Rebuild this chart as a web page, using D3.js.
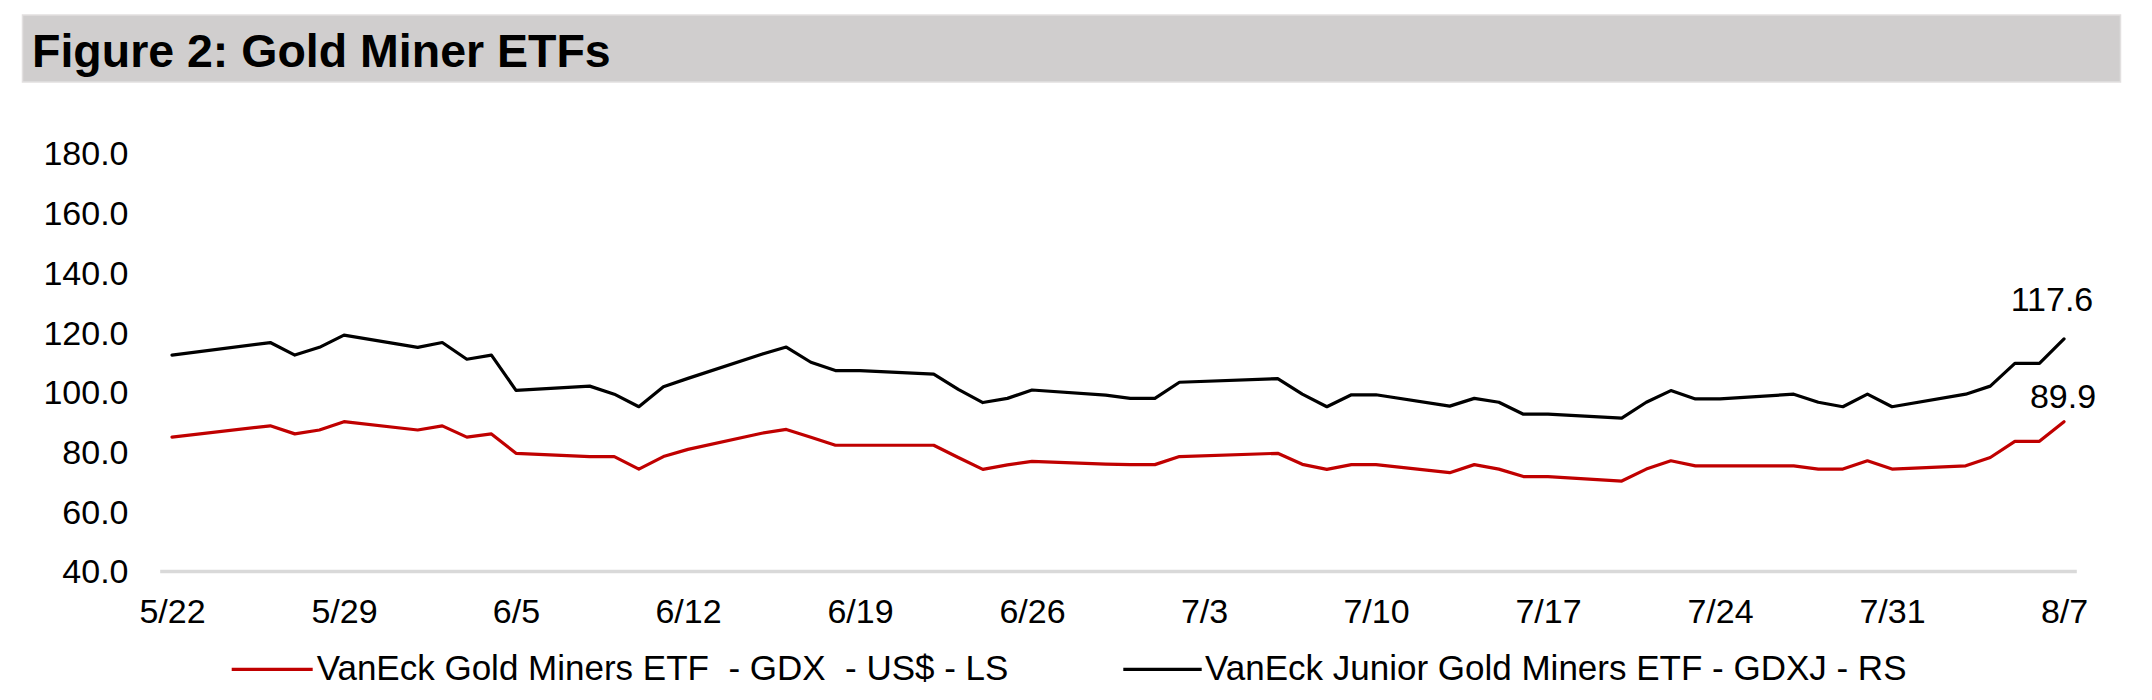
<!DOCTYPE html>
<html>
<head>
<meta charset="utf-8">
<script src="https://cdn.jsdelivr.net/npm/d3@7/dist/d3.min.js"></script>
<style>
  html, body { margin: 0; padding: 0; background: #ffffff; }
  svg { display: block; font-family: "Liberation Sans", Arial, Helvetica, sans-serif; }
</style>
</head>
<body>
<svg id="chart" width="2152" height="700"></svg>
<script>
// ---------------- DATA ----------------
const titleText = "Figure 2: Gold Miner ETFs";
const year = 2020;
const tradingDays = ["5/22","5/26","5/27","5/28","5/29","6/1","6/2","6/3","6/4","6/5",
  "6/8","6/9","6/10","6/11","6/12","6/15","6/16","6/17","6/18","6/19",
  "6/22","6/23","6/24","6/25","6/26","6/29","6/30","7/1","7/2","7/6",
  "7/7","7/8","7/9","7/10","7/13","7/14","7/15","7/16","7/17","7/20",
  "7/21","7/22","7/23","7/24","7/27","7/28","7/29","7/30","7/31","8/3",
  "8/4","8/5","8/6","8/7"];
const gdx = [84.7,88.5,85.8,87.1,89.9,87.1,88.5,84.7,85.8,79.3,
  78.2,78.2,74.0,78.2,80.6,86.0,87.3,84.7,82.0,82.0,
  82.0,77.9,73.9,75.4,76.6,75.7,75.5,75.5,78.2,79.3,
  75.6,73.9,75.5,75.5,72.8,75.5,74.0,71.5,71.5,70.0,
  74.0,76.8,75.1,75.1,75.1,74.0,74.0,76.8,74.0,75.1,
  77.9,83.3,83.3,89.9];
const gdxj = [112.2,116.4,112.2,114.8,118.9,114.8,116.4,110.8,112.2,100.4,
  101.8,99.1,94.9,101.6,104.4,112.5,114.9,109.8,107.0,107.0,
  105.8,100.7,96.3,97.7,100.5,98.8,97.7,97.7,103.1,104.3,
  99.1,94.9,98.9,98.9,95.1,97.7,96.4,92.4,92.4,91.1,
  96.4,100.3,97.5,97.5,99.1,96.4,94.9,99.1,94.9,99.1,
  101.8,109.4,109.4,117.6];
const xTickLabels = ["5/22","5/29","6/5","6/12","6/19","6/26","7/3","7/10","7/17","7/24","7/31","8/7"];
const yTicks = [40,60,80,100,120,140,160,180];
const seriesNames = ["VanEck Gold Miners ETF  - GDX  - US$ - LS", "VanEck Junior Gold Miners ETF - GDXJ - RS"];
const seriesColors = ["#c00000", "#000000"];

// ---------------- HELPERS ----------------
const parseMD = s => { const [m, d] = s.split("/").map(Number); return new Date(Date.UTC(year, m - 1, d)); };
const dates = tradingDays.map(parseMD);
const tickDates = xTickLabels.map(parseMD);
const halfDay = 12 * 3600 * 1000;

const svg = d3.select("#chart");

// Title band
svg.append("rect").attr("x", 22.5).attr("y", 15).attr("width", 2098).attr("height", 67)
  .attr("fill", "#d0cece").attr("stroke", "#e2e0e0").attr("stroke-width", 1.5);
svg.append("text").attr("x", 32).attr("y", 67)
  .attr("font-size", 46.5).attr("font-weight", "bold").attr("fill", "#000")
  .text(titleText);

// Scales
const x = d3.scaleUtc()
  .domain([new Date(dates[0].getTime() - halfDay), new Date(dates[dates.length - 1].getTime() + halfDay)])
  .range([159.7, 2076.3]);
const y = d3.scaleLinear().domain([40, 180]).range([570.6, 152.7]);

// Y axis (labels only)
const yAxis = svg.append("g").attr("transform", "translate(128.5,0)")
  .call(d3.axisLeft(y).tickValues(yTicks).tickFormat(d3.format(".1f")).tickSize(0).tickPadding(0));
yAxis.select(".domain").remove();
yAxis.selectAll("text").attr("font-size", 34).attr("fill", "#000").attr("dy", "0.36em")
  .attr("font-family", "Liberation Sans, Arial, sans-serif");

// X axis
const xAxis = svg.append("g").attr("transform", "translate(0,571)")
  .call(d3.axisBottom(x).tickValues(tickDates).tickFormat(d3.utcFormat("%-m/%-d")).tickSize(0).tickPadding(0));
xAxis.select(".domain").attr("stroke", "#d9d9d9").attr("stroke-width", 3.5);
xAxis.selectAll("text").attr("font-size", 34).attr("fill", "#000").attr("y", 28).attr("dy", "0.71em")
  .attr("font-family", "Liberation Sans, Arial, sans-serif");

// Lines
const line = d3.line().x((d, i) => x(dates[i])).y(d => y(d));
[gdx, gdxj].forEach((vals, k) => {
  svg.append("path").datum(vals)
    .attr("d", line)
    .attr("fill", "none")
    .attr("stroke", seriesColors[k])
    .attr("stroke-width", 3.2)
    .attr("stroke-linejoin", "round")
    .attr("stroke-linecap", "round");
});

// End-point data labels
const lastDate = dates[dates.length - 1];
const endLabels = [
  { v: gdxj[gdxj.length - 1], dx: -12, dy: -28 },
  { v: gdx[gdx.length - 1], dx: -1, dy: -14 }
];
endLabels.forEach(l => {
  svg.append("text")
    .attr("x", x(lastDate) + l.dx)
    .attr("y", y(l.v) + l.dy)
    .attr("text-anchor", "middle")
    .attr("font-size", 34)
    .attr("fill", "#000")
    .text(d3.format(".1f")(l.v));
});

// Legend
const legendItems = [
  { x1: 231.7, x2: 312.7, tx: 316.7 },
  { x1: 1123.3, x2: 1201.7, tx: 1205 }
];
legendItems.forEach((it, k) => {
  svg.append("line").attr("x1", it.x1).attr("x2", it.x2).attr("y1", 669.3).attr("y2", 669.3)
    .attr("stroke", seriesColors[k]).attr("stroke-width", 3.2);
  svg.append("text").attr("x", it.tx).attr("y", 680)
    .attr("font-size", 35).attr("fill", "#000")
    .attr("xml:space", "preserve").style("white-space", "pre")
    .text(seriesNames[k]);
});
</script>
</body>
</html>
